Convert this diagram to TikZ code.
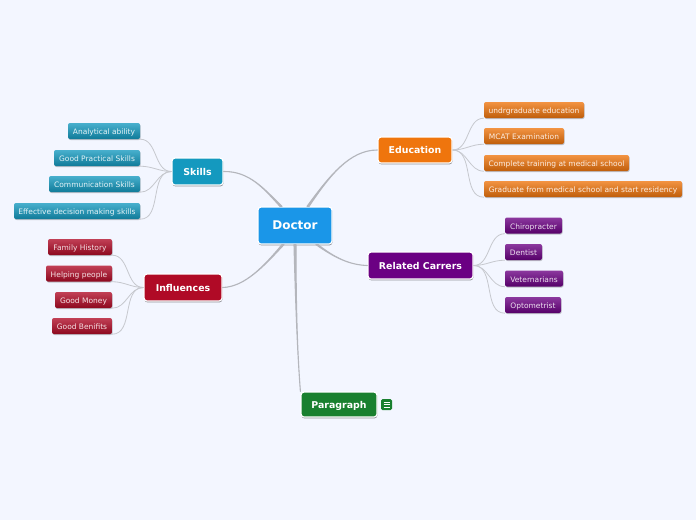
\documentclass[tikz,border=0pt]{standalone}
\usepackage{fontspec}
\setmainfont{DejaVu Sans}
\usetikzlibrary{calc,shadows}
\definecolor{pagec}{HTML}{F3F6FF}
\definecolor{linkc}{HTML}{B4B6BC}
\definecolor{twigc}{HTML}{C6C8CE}
\definecolor{rootc}{HTML}{1A96E8}
\definecolor{skillc}{HTML}{1499BF}
\definecolor{educ}{HTML}{EF750D}
\definecolor{relc}{HTML}{6B0083}
\definecolor{inflc}{HTML}{B00A26}
\definecolor{parac}{HTML}{19802F}
\newcommand{\mainlink}[5]{%
  \filldraw[linkc,line width=1.1pt,line join=round] ($(#1)+(#2-1,0)$) .. controls (#3) and (#4) .. (#5)
    .. controls (#4) and (#3) .. ($(#1)+(#2+1,0)$) -- cycle;}
\begin{document}
\begin{tikzpicture}[
      x=1pt,y=-1pt,
      branch/.style={draw=white,line width=1.2pt,fill=#1,rounded corners=3pt,text=white,inner sep=0pt,
        text height=7pt,text depth=0pt,
        font=\bfseries\fontsize{9.4}{11}\selectfont,
        drop shadow={shadow xshift=0.4pt,shadow yshift=-1.4pt,fill=black,opacity=0.4}},
      leaf/.style={rounded corners=2pt,inner sep=0pt,text=white!88!#1,
        text height=7pt,text depth=0pt,
        top color=#1!78,middle color=#1!92,bottom color=#1!80!black,
        font=\fontsize{7.5}{9}\selectfont,
        drop shadow={shadow xshift=0.6pt,shadow yshift=-1pt,fill=black,opacity=0.22}},
      twig/.style={twigc,line width=0.8pt},
    ]
    \fill[pagec] (0,0) rectangle (696,520);
    \useasboundingbox (0,0) rectangle (696,520);
    % main topics
    \node[branch=rootc,minimum width=74pt,minimum height=37pt,text height=8.5pt,font=\bfseries\fontsize{12}{14}\selectfont] (doctor) at (295,225.5) {Doctor};
    \node[branch=skillc,minimum width=51pt,minimum height=27pt] (skills) at (197.5,171.5) {Skills};
    \node[branch=educ,minimum width=74pt,minimum height=26pt] (education) at (415,150) {Education};
    \node[branch=relc,minimum width=105pt,minimum height=27pt] (related) at (420.5,265.5) {Related Carrers};
    \node[branch=inflc,minimum width=78pt,minimum height=27pt] (influences) at (183,287.5) {Influences};
    \node[branch=parac,minimum width=76pt,minimum height=25pt] (paragraph) at (339,404.5) {Paragraph};
    % subtopics, name/centre x/centre y/width/text
    \foreach \nm/\cx/\cy/\bw/\txt in {
        sk1/104/131/72/Analytical ability,
        sk2/97/158/86/Good Practical Skills,
        sk3/94.5/184/91/Communication Skills,
        sk4/77/211/126/Effective decision making skills} {
      \node[leaf=skillc,minimum width=\bw pt,minimum height=16pt] (\nm) at (\cx,\cy) {\txt};
      \draw[twig] (skills.west) to[out=180,in=0] (\nm.south east);
    }
    \foreach \nm/\cx/\cy/\bw/\txt in {
        inf1/80/247/64/Family History,
        inf2/79/273.5/66/Helping people,
        inf3/83.5/300/57/Good Money,
        inf4/82/326/60/Good Benifits} {
      \node[leaf=inflc,minimum width=\bw pt,minimum height=16pt] (\nm) at (\cx,\cy) {\txt};
      \draw[twig] (influences.west) to[out=180,in=0] (\nm.south east);
    }
    \foreach \nm/\cx/\cy/\bw/\txt in {
        edu1/534/110/100/undrgraduate education,
        edu2/524/136/80/MCAT Examination,
        edu3/556.5/163/145/Complete training at medical school,
        edu4/583/189/198/Graduate from medical school and start residency} {
      \node[leaf=educ,minimum width=\bw pt,minimum height=16pt] (\nm) at (\cx,\cy) {\txt};
      \draw[twig] (education.east) to[out=0,in=180] (\nm.south west);
    }
    \foreach \nm/\cx/\cy/\bw/\txt in {
        rel1/533.5/225.5/57/Chiropracter,
        rel2/523.5/252/37/Dentist,
        rel3/534/278.5/58/Veternarians,
        rel4/533/305/56/Optometrist} {
      \node[leaf=relc,minimum width=\bw pt,minimum height=16pt] (\nm) at (\cx,\cy) {\txt};
      \draw[twig] (related.east) to[out=0,in=180] (\nm.south west);
    }
    % note marker
    \node[fill=parac,rounded corners=1.5pt,minimum size=11pt,inner sep=0pt] (note) at (386.5,404.5) {};
    \foreach \k in {-2.5,0,2.5} {
      \draw[white,line width=1pt] ($(note.center)+(-3,\k)$) -- ($(note.center)+(3,\k)$);
    }
    % links from the centre
    \mainlink{doctor.north}{-14}{265,190}{250,171}{skills.east}
    \mainlink{doctor.north}{13}{330,175}{350,150}{education.west}
    \mainlink{doctor.south}{22}{335,258}{350,265}{related.west}
    \mainlink{doctor.south}{-12}{265,265}{245,287}{influences.east}
    \mainlink{doctor.south}{0}{296,320}{298,360}{paragraph.north west}
  \end{tikzpicture}
\end{document}
